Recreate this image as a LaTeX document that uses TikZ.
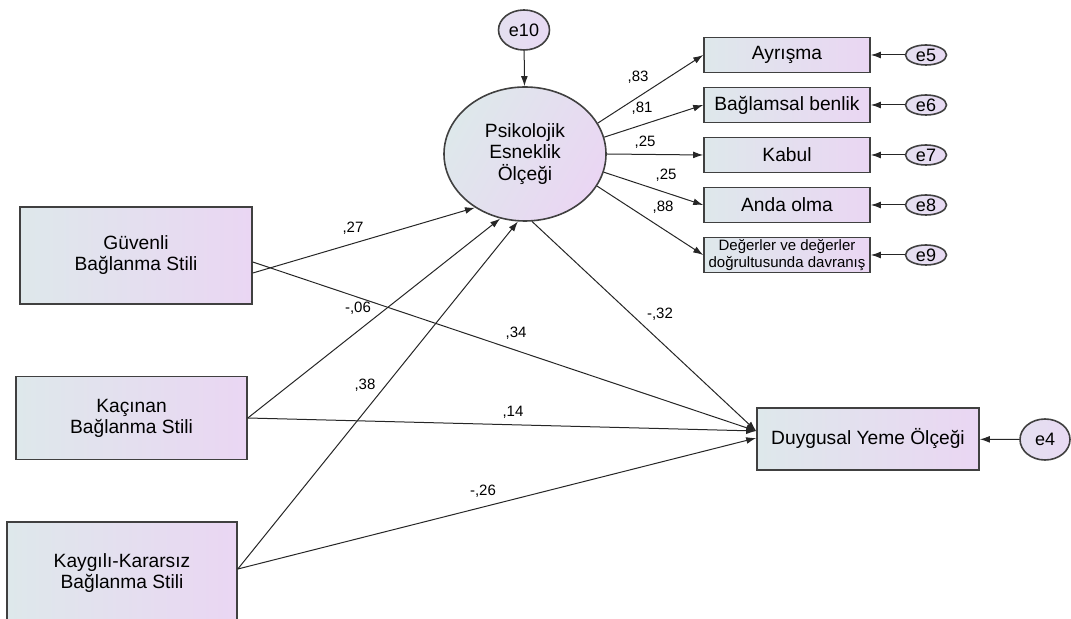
\documentclass[tikz,border=0pt]{standalone}
\usepackage{fontspec}
\setmainfont{Liberation Sans}
\usetikzlibrary{shapes.geometric,arrows.meta,calc}
\definecolor{cajaizq}{RGB}{222,232,235}
\definecolor{cajader}{RGB}{234,214,243}
\definecolor{borde}{RGB}{64,64,64}
\definecolor{elipse}{RGB}{232,218,243}
\begin{document}
\begin{tikzpicture}[x=0.5pt,y=-0.5pt,
  caja/.style={draw=borde,line width=0.8pt,left color=cajaizq,right color=cajader,
    inner sep=0pt,align=center,font=\fontsize{9.6}{10.5}\selectfont},
  error/.style={ellipse,draw=borde,line width=0.8pt,left color=cajaizq!40!elipse,right color=elipse,
    inner sep=0pt,minimum width=20.5pt,minimum height=10pt,font=\fontsize{9}{10}\selectfont},
  flecha/.style={-{Latex[length=5pt,width=3.4pt]},line width=0.5pt,draw=black!85},
  coef/.style={inner sep=0pt,font=\fontsize{7.5}{8}\selectfont}]
\clip (0,0) rectangle (1071,619);
%
% estilos de apego
\node[caja,minimum width=116pt,minimum height=48.5pt] (gs) at (136,255.5) {Güvenli\\Bağlanma Stili};
\node[caja,minimum width=115.5pt,minimum height=41.5pt] (kb) at (131.5,418) {Kaçınan\\Bağlanma Stili};
\node[caja,minimum width=115pt,minimum height=51pt] (kk) at (122,573) {Kaygılı-Kararsız\\Bağlanma Stili};
%
% variable latente y sus indicadores
\node[ellipse,draw=borde,line width=0.8pt,left color=cajaizq,right color=cajader,shading angle=60,
  inner sep=0pt,minimum width=81pt,minimum height=67pt,align=center,
  font=\fontsize{9.6}{10.7}\selectfont] (pe) at (525,154) {Psikolojik\\Esneklik\\Ölçeği};
\node[error,minimum width=25.5pt,minimum height=20pt] (e10) at (524,30) {e10};
\node[caja,minimum width=83pt,minimum height=17.5pt] (ay) at (787,55) {Ayrışma};
\node[caja,minimum width=83pt,minimum height=17.5pt] (bb) at (787,105) {Bağlamsal benlik};
\node[caja,minimum width=83pt,minimum height=17.5pt] (ka) at (787,155) {Kabul};
\node[caja,minimum width=83pt,minimum height=17.5pt] (ao) at (787,205) {Anda olma};
\node[caja,minimum width=83pt,minimum height=17.5pt,font=\fontsize{7.5}{8.3}\selectfont] (dd) at (787,255)
  {Değerler ve değerler\\doğrultusunda davranış};
\node[error] (e5) at (926,55) {e5};
\node[error] (e6) at (926,105) {e6};
\node[error] (e7) at (926,155) {e7};
\node[error] (e8) at (926,205) {e8};
\node[error] (e9) at (926,255) {e9};
%
% dependiente
\node[caja,minimum width=111pt,minimum height=31pt] (dys) at (868,439) {Duygusal Yeme Ölçeği};
\node[error,minimum width=25pt,minimum height=20.5pt] (e4) at (1045,439.5) {e4};
%
% flechas
\draw[flecha] (e10) -- (pe);
\draw[flecha] (pe.23) -- (ay.west);
\draw[flecha] (pe.12) -- (bb.west);
\draw[flecha] (pe.0) -- (ka.west);
\draw[flecha] (pe.-13) -- (ao.west);
\draw[flecha] (pe.-24.5) -- (dd.west);
\foreach \e/\c in {e5/ay,e6/bb,e7/ka,e8/ao,e9/dd,e4/dys}
  \draw[flecha] (\e) -- (\c);
%
\draw[flecha] ($(gs.east)+(0,17.5)$) -- (pe.227);
\draw[flecha] (kb.east) -- (pe.249);
\draw[flecha] ($(kk.east)+(0,-4)$) -- (pe.264);
\draw[flecha] (pe.276) -- ($(dys.west)+(0,-8)$);
\draw[flecha] ($(gs.east)+(0,6.5)$) -- ($(dys.west)+(0,-8)$);
\draw[flecha] (kb.east) -- ($(dys.west)+(0,-8)$);
\draw[flecha] ($(kk.east)+(0,-4)$) -- ($(dys.west)+(0,-1)$);
%
% coeficientes
\node[coef] (c83) at (638,77) {,83};
\node[coef] (c81) at (642,108) {,81};
\node[coef] (c25a) at (645,142) {,25};
\node[coef] (c25b) at (666,175) {,25};
\node[coef] (c88) at (663,207) {,88};
\node[coef] (c27) at (353,228) {,27};
\node[coef] (c06) at (358,308) {-,06};
\node[coef] (c34) at (516,333) {,34};
\node[coef] (c32) at (660,314) {-,32};
\node[coef] (c38) at (365,385) {,38};
\node[coef] (c14) at (513,412) {,14};
\node[coef] (c26) at (483,491) {-,26};
%
\end{tikzpicture}
\end{document}
